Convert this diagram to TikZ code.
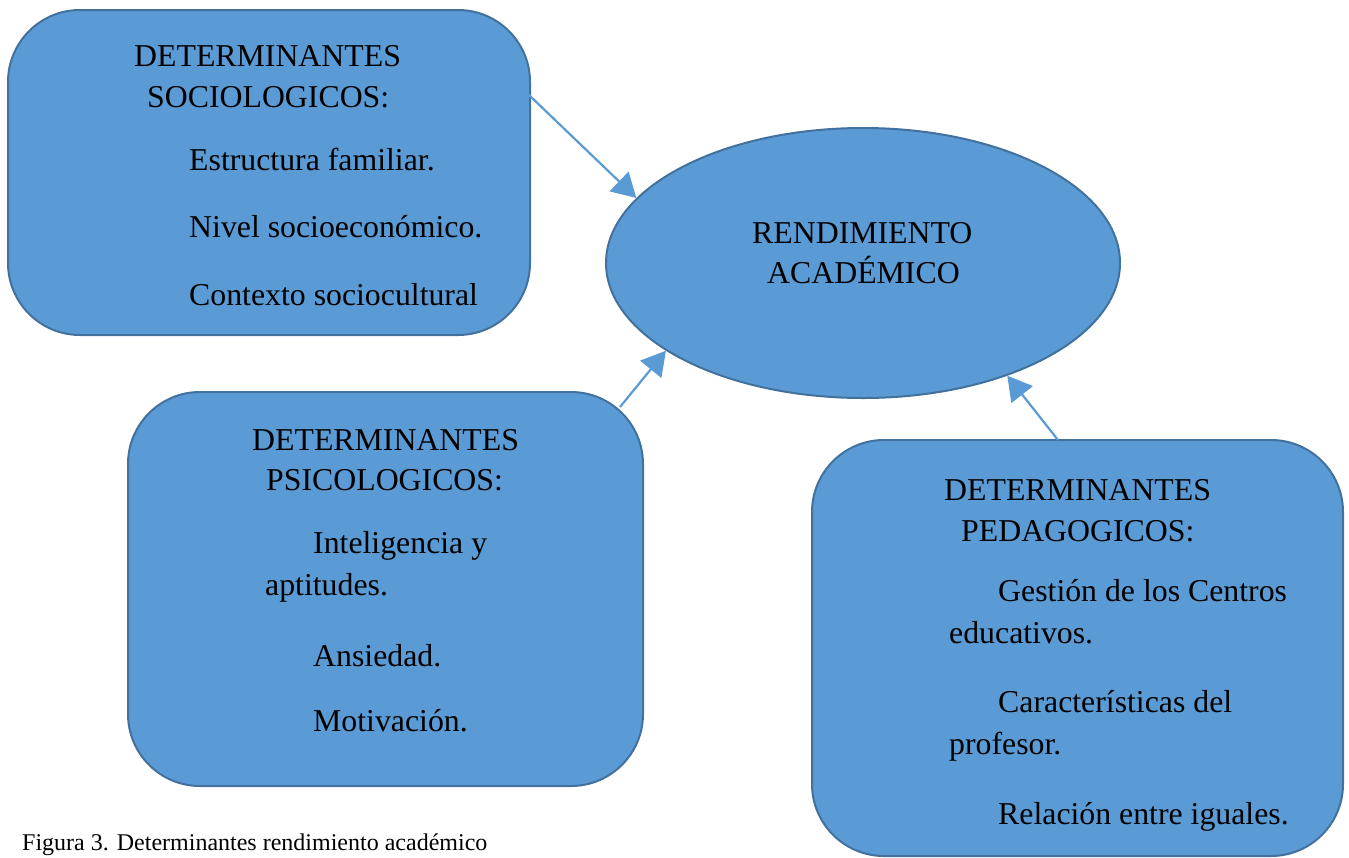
\documentclass[tikz,border=0pt]{standalone}
\usepackage{fontspec}
\setmainfont{Liberation Serif}
\usetikzlibrary{arrows.meta,shapes.geometric}
\definecolor{boxfill}{HTML}{5B9BD5}
\definecolor{boxline}{HTML}{41719C}
\definecolor{arrcol}{HTML}{5B9BD5}
\tikzset{
  box/.style={draw=boxline, fill=boxfill, line width=2pt, rounded corners=72pt, inner sep=0pt},
  ell/.style={ellipse, draw=boxline, fill=boxfill, line width=2pt, inner sep=0pt},
  txt/.style={anchor=base west, inner sep=0pt, font=\fontsize{31.8}{38}\selectfont},
  captxt/.style={anchor=base west, inner sep=0pt, font=\fontsize{24}{29}\selectfont},
  arr/.style={draw=arrcol, line width=2.2pt, -{Triangle[length=24pt,width=27pt]}}
}
\begin{document}
\begin{tikzpicture}[x=1pt,y=-1pt]
\useasboundingbox (0,0) rectangle (1349,857);
\clip (0,0) rectangle (1349,857);
% boxes
\node[box, minimum width=522pt, minimum height=325pt] (b1) at (269,172.5) {};
\node[box, minimum width=515pt, minimum height=394pt] (b2) at (385.5,589) {};
\node[box, minimum width=531pt, minimum height=416pt] (b3) at (1077.5,648) {};
\node[ell, minimum width=514pt, minimum height=270pt] (el) at (863,263) {};
% texts box 1
\node[txt] (t11) at (134,66) {DETERMINANTES};
\node[txt] (t12) at (147,107) {SOCIOLOGICOS:};
\node[txt] (t13) at (189,170) {Estructura familiar.};
\node[txt] (t14) at (189,237) {Nivel socioeconómico.};
\node[txt] (t15) at (189,305) {Contexto sociocultural};
% texts box 2
\node[txt] (t21) at (252,450) {DETERMINANTES};
\node[txt] (t22) at (266,490) {PSICOLOGICOS:};
\node[txt] (t23) at (313,553) {Inteligencia y};
\node[txt] (t24) at (265,595) {aptitudes.};
\node[txt] (t25) at (313,666) {Ansiedad.};
\node[txt] (t26) at (313,731) {Motivación.};
% texts box 3
\node[txt] (t31) at (944,500) {DETERMINANTES};
\node[txt] (t32) at (961,541) {PEDAGOGICOS:};
\node[txt] (t33) at (998,601) {Gestión de los Centros};
\node[txt] (t34) at (949,643) {educativos.};
\node[txt] (t35) at (998,712) {Características del};
\node[txt] (t36) at (949,754) {profesor.};
\node[txt] (t37) at (998,824) {Relación entre iguales.};
% ellipse text
\node[txt] (te1) at (752,243) {RENDIMIENTO};
\node[txt] (te2) at (767,283) {ACADÉMICO};
% caption
\node[captxt] (capn) at (22,850) {Figura 3. Determinantes rendimiento académico};
% arrows
\coordinate (s1) at (529,95);
\coordinate (s2) at (620,407);
\coordinate (s3) at (1058,440);
\draw[arr] (s1) -- (el.164.4);
\draw[arr] (s2) -- (el.204.8);
\draw[arr] (s3) -- (el.322.8);
\end{tikzpicture}
\end{document}
